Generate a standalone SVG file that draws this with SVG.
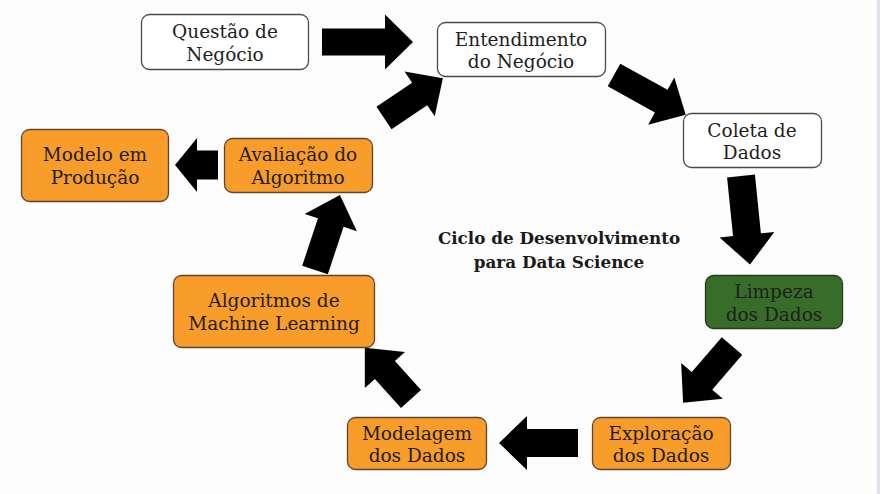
<svg xmlns="http://www.w3.org/2000/svg" width="880" height="494" viewBox="0 0 880 494">
<style>
.box{stroke:#4a4a4a;stroke-width:1.3}
.w{fill:#ffffff}
.o{fill:#f89c2a;stroke:#5b4636}
.g{fill:#376d28;stroke:#2a3a22}
.t{font-family:"DejaVu Serif","Liberation Serif",serif;font-size:18.5px;fill:#1e1e1e;text-anchor:middle}
.title{font-family:"DejaVu Serif","Liberation Serif",serif;font-size:16.8px;font-weight:bold;fill:#1a1a1a;text-anchor:middle}
.arr{fill:#000000}
</style>
<rect x="0" y="0" width="880" height="494" fill="#fdfdfd"/>
<rect x="877" y="0" width="3" height="494" fill="#dfe4ea"/>

<g id="connectors" class="arr">
  <polygon transform="translate(322,42)" points="0,-13.5 63,-13.5 63,-27.5 91,0 63,27.5 63,13.5 0,13.5"/>
  <polygon transform="translate(614,75) rotate(29)" points="0,-13 54,-13 54,-27 82,0 54,27 54,13 0,13"/>
  <polygon transform="translate(741,176) rotate(84.2)" points="0,-14 59,-14 59,-27.5 89,0 59,27.5 59,14 0,14"/>
  <polygon transform="translate(732,346) rotate(130.7)" points="0,-13.5 46,-13.5 46,-27.5 75,0 46,27.5 46,13.5 0,13.5"/>
  <polygon transform="translate(578,443) rotate(180)" points="0,-14 51,-14 51,-27 79,0 51,27 51,14 0,14"/>
  <polygon transform="translate(411,399) rotate(228)" points="0,-13.5 39,-13.5 39,-27 69,0 39,27 39,13.5 0,13.5"/>
  <polygon transform="translate(315,270) rotate(-71.6)" points="0,-13.5 50,-13.5 50,-27.5 79,0 50,27.5 50,13.5 0,13.5"/>
  <polygon transform="translate(218,165) rotate(180)" points="0,-14.5 21,-14.5 21,-27 43,0 21,27 21,14.5 0,14.5"/>
  <polygon transform="translate(384,118) rotate(-34)" points="0,-13.5 43,-13.5 43,-27 71,0 43,27 43,13.5 0,13.5"/>
</g>

<g id="questao">
  <rect class="box w" x="141.5" y="14.5" width="167" height="55" rx="8"/>
  <text class="t" x="225" y="38">Questão de</text>
  <text class="t" x="225" y="61">Negócio</text>
</g>
<g id="entendimento">
  <rect class="box w" x="437.5" y="22.5" width="168" height="54" rx="8"/>
  <text class="t" x="521" y="46">Entendimento</text>
  <text class="t" x="521" y="68">do Negócio</text>
</g>
<g id="coleta">
  <rect class="box w" x="683.5" y="113.5" width="138" height="54" rx="8"/>
  <text class="t" x="752" y="137">Coleta de</text>
  <text class="t" x="752" y="159">Dados</text>
</g>
<g id="limpeza">
  <rect class="box g" x="705.5" y="275.5" width="137" height="53" rx="8"/>
  <text class="t" x="774" y="298">Limpeza</text>
  <text class="t" x="774" y="321">dos Dados</text>
</g>
<g id="exploracao">
  <rect class="box o" x="592.5" y="417.5" width="138" height="52" rx="8"/>
  <text class="t" x="661" y="440">Exploração</text>
  <text class="t" x="661" y="462">dos Dados</text>
</g>
<g id="modelagem">
  <rect class="box o" x="347.5" y="417.5" width="139" height="52" rx="8"/>
  <text class="t" x="417" y="440">Modelagem</text>
  <text class="t" x="417" y="462">dos Dados</text>
</g>
<g id="algoritmos">
  <rect class="box o" x="173.5" y="275.5" width="201" height="72" rx="8"/>
  <text class="t" x="274" y="307">Algoritmos de</text>
  <text class="t" x="274" y="330">Machine Learning</text>
</g>
<g id="avaliacao">
  <rect class="box o" x="224.5" y="138.5" width="148" height="54" rx="8"/>
  <text class="t" x="298" y="161">Avaliação do</text>
  <text class="t" x="298" y="184">Algoritmo</text>
</g>
<g id="modelo">
  <rect class="box o" x="21.5" y="129.5" width="147" height="72" rx="8"/>
  <text class="t" x="95" y="161">Modelo em</text>
  <text class="t" x="95" y="184">Produção</text>
</g>

<g id="title">
  <text class="title" x="559" y="244">Ciclo de Desenvolvimento</text>
  <text class="title" x="559" y="268">para Data Science</text>
</g>
</svg>
